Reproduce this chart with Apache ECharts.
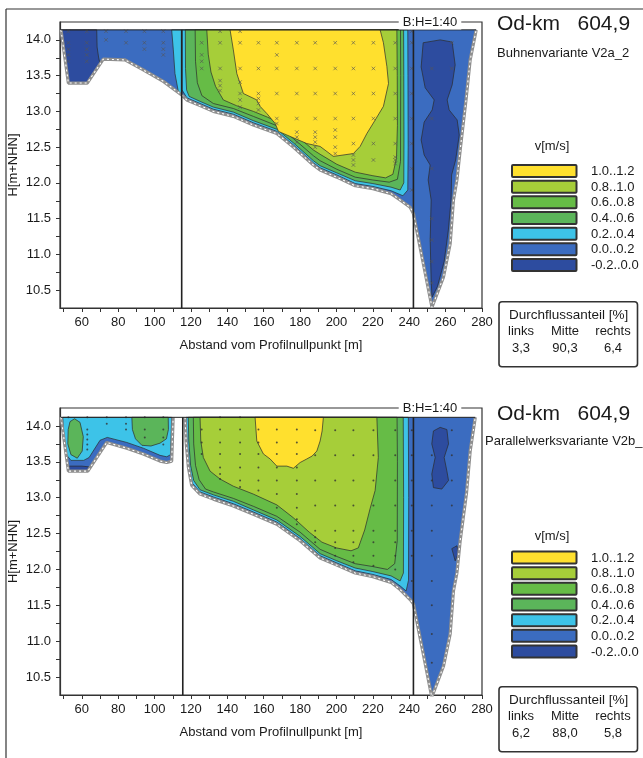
<!DOCTYPE html>
<html><head><meta charset="utf-8">
<script src="https://cdn.jsdelivr.net/npm/echarts@6/dist/echarts.min.js"></script>
<style>html,body{margin:0;padding:0;background:#fff}#c{width:643px;height:758px}</style>
</head><body><div id="c"></div>
<script>
// ---------- legend / classes ----------
const legendLabels = ['1.0..1.2','0.8..1.0','0.6..0.8','0.4..0.6','0.2..0.4','0.0..0.2','-0.2..0.0'];
const levelColors  = ['#FFE02E','#A6CE39','#66BC46','#5BB55A','#3DC3E8','#3B6CC0','#2D4C9F'];

// ---------- axes ----------
const xTickValues  = [50,60,70,80,90,100,110,120,130,140,150,160,170,180,190,200,210,220,230,240,250,260,270,280];
const xLabelValues = [60,80,100,120,140,160,180,200,220,240,260,280];
const yTickValues  = [10.5,10.75,11.0,11.25,11.5,11.75,12.0,12.25,12.5,12.75,13.0,13.25,13.5,13.75,14.0];
const yLabelValues = [10.5,11.0,11.5,12.0,12.5,13.0,13.5,14.0];

// ---------- panel texts ----------
const panelTitles    = ['Od-km   604,9','Od-km   604,9'];
const panelSubtitles = ['Buhnenvariante V2a_2','Parallelwerksvariante V2b_2'];
const flowHeader = ['links','Mitte','rechts'];
const flowTop    = ['3,3','90,3','6,4'];
const flowBottom = ['6,2','88,0','5,8'];

// ---------- TOP panel (Buhnenvariante) ----------
const topSurface = [[48.55,14.14],[276.8,14.14]];
const topDividers = [[[114.9,14.14],[114.9,10.25]],[[242.3,14.14],[242.3,10.25]]];
const topBed = [[48.55,14.14],[52.6,13.396],[63,13.396],[71.8,13.73],[83.75,13.72],[93.8,13.58],[104.8,13.42],[114.9,13.23],
  [117.7,13.16],[125,13.08],[132.3,13.0],[143.3,12.93],[154.3,12.81],[167.2,12.69],[176.3,12.5],[187.3,12.25],[191,12.18],
  [200.2,12.08],[210.3,11.96],[220,11.92],[230,11.85],[235,11.76],[240.5,11.66],[242.3,11.57],[252.5,10.26],[258.8,10.68],
  [262.5,11.15],[264.3,11.76],[266.2,12.04],[268,12.46],[271.2,13.16],[273.5,13.72],[276.8,14.14]];
const topFloodDark = [[48.55,14.14],[68.2,14.14],[68.4,13.9],[69.2,13.76],[70,13.66],[63,13.396],[52.6,13.396]];
const topFloodCyan = [[109.4,14.14],[110.3,13.86],[111.2,13.53],[113.1,13.27],[114.9,13.23],[114.9,14.14]];
const top02 = [[115.1,14.14],[115.1,13.3],[117.7,13.19],[125,13.11],[132.3,13.03],[143.3,12.96],[154.3,12.84],[167.2,12.72],
  [176.3,12.53],[187.3,12.28],[191,12.21],[200.2,12.11],[210.3,11.99],[220,11.95],[230,11.89],[236.5,11.82],[239.2,11.9],
  [239.4,12.5],[239.3,13.5],[239.2,14.14]];
const top04 = [[116.9,14.14],[117,13.6],[117.6,13.3],[119,13.21],[125,13.14],[132.3,13.06],[143.3,12.99],[154.3,12.87],[167.2,12.75],
  [176.3,12.56],[187.3,12.31],[191,12.24],[200.2,12.14],[210.3,12.03],[220,11.99],[230,11.94],[235,11.9],[237,12.0],
  [237.1,12.6],[237,13.5],[236.9,14.14]];
const top06 = [[122.3,14.14],[122.5,13.7],[123.5,13.4],[126,13.22],[132.3,13.11],[143.3,13.04],[154.3,12.93],[167.2,12.8],
  [176.3,12.62],[187.3,12.38],[191,12.31],[200.2,12.19],[210.3,12.08],[220,12.04],[229,12.01],[233.5,12.05],[235.2,12.3],
  [235.3,13.5],[235.2,14.14]];
const top08 = [[128.7,14.14],[129.5,13.8],[131,13.55],[133.5,13.35],[137.8,13.16],[145,13.08],[154.3,13.0],[162,12.92],[167.2,12.86],
  [176.3,12.7],[187.3,12.46],[191,12.4],[200.2,12.26],[210.3,12.15],[220,12.1],[227,12.07],[231,12.12],[233,12.35],
  [233.5,12.8],[233.4,13.5],[233.2,14.14]];
const top10 = [[141.5,14.14],[143.3,13.86],[145.2,13.53],[148.8,13.25],[156.2,13.16],[158,13.07],[161.7,12.97],[166.3,12.83],
  [168.1,12.72],[174.5,12.65],[183.7,12.55],[191,12.51],[198.3,12.37],[209.3,12.41],[213,12.51],[216.7,12.69],[221.3,12.88],
  [225.8,13.07],[228.6,13.39],[227.7,13.63],[225.8,13.96],[224,14.14]];
const topRightDark = [[247.65,13.96],[246.55,13.62],[248.75,13.33],[253.7,13.16],[252.6,13.02],[248.2,12.85],[246.55,12.6],
  [248.2,12.39],[251.5,12.25],[250.4,12.04],[252.05,11.76],[251.5,11.2],[252.05,10.64],[252.5,10.4],[255.5,10.55],[259.2,10.9],
  [261.5,11.34],[263,11.76],[263.3,12.11],[265.5,12.32],[266.3,12.46],[267.5,12.67],[266.35,12.88],[261.95,13.02],[260.85,13.16],
  [263.6,13.37],[265.25,13.65],[263.6,13.97],[257,14.0]];
// measurement verticals (station x) and point heights
const topMarkX = [52.6,62.7,73.3,84.3,94.4,104.8,125.9,136,147,157.1,167.2,178.2,188.3,199.3,209.3,220.3,232.3,241.4,252.4,263.4];
const topMarkY = [
  [14.12,13.96,13.87,13.79,13.70],[14.12,13.96,13.87,13.79,13.70],[14.12,14.0],[14.12,13.96],[14.12,13.96,13.87],
  [14.12,13.96,13.87,13.79],[13.96,13.79,13.70,13.6],[14.12,13.96,13.6,13.43,13.36,13.29],
  [14.12,13.96,13.6,13.41,13.25,13.16,13.06],[13.96,13.6,13.25,13.18,13.11,13.02],[13.96,13.79,13.6,13.25,12.9,12.83],
  [13.96,13.6,13.25,12.9,12.71,12.64,12.57],[13.96,13.6,13.25,12.9,12.71,12.64,12.57,12.5],
  [13.96,13.6,13.25,12.9,12.74,12.64,12.5,12.41],[13.96,13.6,13.25,12.9,12.55,12.39,12.32,12.25],
  [13.96,13.6,13.25,12.9,12.55,12.32],[13.96,13.6,13.25,12.9,12.55,12.36,12.32,12.27],
  [14.12,13.96,13.6,13.25,12.9,12.55,12.2,11.9],[13.6,12.9,12.2,11.5,11.2,10.9,10.6],[13.96,13.6]];

// ---------- BOTTOM panel (Parallelwerksvariante) ----------
const botSurface = [[48.55,14.12],[276.3,14.12]];
const botDividers = [[[115.5,14.12],[115.5,10.25]],[[242.3,14.12],[242.3,10.25]]];
const botFloodBed = [[48.55,14.12],[52.6,13.37],[63.3,13.37],[73.7,13.77],[84.7,13.69],[93.8,13.61],[103,13.51],[106.7,13.49],
  [109.4,13.51],[110.2,14.12]];
const botMainBed = [[116.75,14.12],[117.3,13.79],[118.6,13.42],[120.4,13.17],[125,13.05],[132.3,12.98],[143.3,12.885],[154.3,12.77],
  [167.2,12.63],[180,12.4],[191,12.16],[200.2,12.06],[210.3,11.95],[220,11.9],[230,11.82],[235,11.72],[240.5,11.58],[242.3,11.52],
  [252.4,10.22],[258.8,10.65],[262.5,11.1],[264.3,11.7],[266.2,11.95],[268,12.4],[271.5,13.07],[273.5,13.65],[276.3,14.12]];
const botFloodCyan = [[49.5,14.12],[50,13.9],[51.5,13.6],[54,13.52],[61,13.52],[64,13.56],[70,13.8],[74,13.84],[84.7,13.77],
  [93.8,13.69],[103,13.59],[106.7,13.57],[108.8,13.6],[109.4,14.12]];
const botFloodDark = [[52.6,13.37],[63.3,13.37],[63.8,13.43],[60,13.44],[53,13.44]];
const botFloodGreenA = [[52.5,13.95],[53.5,14.06],[56,14.1],[59,14.05],[60.8,13.85],[60.2,13.65],[57.5,13.55],[54,13.6],[52.3,13.75]];
const botFloodGreenB = [[87.5,14.12],[87.8,13.95],[89.5,13.82],[93,13.73],[98,13.72],[103,13.76],[106.5,13.82],[107.6,13.95],[107.5,14.12]];
const bot02 = [[117.3,14.12],[117.8,13.79],[119.1,13.42],[120.8,13.2],[125,13.08],[132.3,13.01],[143.3,12.915],[154.3,12.8],
  [167.2,12.66],[180,12.43],[191,12.19],[200.2,12.09],[210.3,11.98],[220,11.93],[230,11.86],[235,11.77],[238.3,11.7],
  [239.6,11.85],[239.7,13],[239.5,14.12]];
const bot04 = [[118.5,14.12],[118.8,13.79],[119.8,13.45],[121.5,13.24],[125,13.11],[132.3,13.04],[143.3,12.95],[154.3,12.83],
  [167.2,12.69],[180,12.46],[191,12.22],[200.2,12.12],[210.3,12.02],[220,11.97],[230,11.91],[235,11.84],[236.8,11.95],
  [236.9,13],[236.7,14.12]];
const bot06 = [[121.3,14.12],[121.5,13.75],[122.5,13.45],[124.5,13.25],[128,13.12],[132.3,13.08],[143.3,12.99],[154.3,12.88],
  [167.2,12.74],[180,12.52],[191,12.28],[200.2,12.18],[210.3,12.08],[220,12.04],[228,12.0],[232,12.08],[233.4,12.4],
  [233.5,13.5],[233.3,14.12]];
const bot08 = [[125,14.12],[125.4,13.79],[126.8,13.56],[130.5,13.37],[136,13.26],[143.3,13.16],[154.3,13.05],[167.2,12.9],
  [176.3,12.72],[185,12.52],[192,12.38],[200,12.3],[208,12.26],[212,12.3],[215.5,12.55],[218.5,12.85],[221.25,13.1],
  [223,13.56],[222.2,14.12]];
const bot10 = [[155.25,14.12],[156.2,13.79],[159.8,13.61],[163.5,13.54],[167.2,13.44],[172.7,13.44],[176.3,13.41],[180,13.49],
  [183.7,13.54],[186.6,13.58],[189.2,13.65],[191,13.79],[192.1,13.93],[192.8,14.12]];
const botRightDark = [[253.3,13.93],[257,13.98],[260.7,13.95],[261.6,13.75],[259.2,13.56],[260.7,13.37],[261.6,13.24],[257.9,13.12],
  [253.3,13.14],[252.4,13.33],[254.25,13.56],[252.4,13.75]];
const botRightDark2 = [[263.4,12.29],[266.2,12.33],[267.1,12.22],[265.25,12.12]];
const botMarkX = [52.6,63,73.7,84.3,94.6,104.8,125.9,136,147,157.1,167.2,178.2,188.3,199.3,209.3,220.3,232.3,241.4,252.4,263.4];
const botMarkY = [
  [14.12],[14.12,13.95,13.88,13.81,13.74,13.67],[14.12,14.03],[14.12,14.03,13.95],[14.12,13.95,13.84],[14.12,13.95,13.84,13.74],
  [13.95,13.77,13.61],[14.12,13.95,13.77,13.61,13.42,13.33,13.26],[14.12,13.95,13.77,13.61,13.42,13.24,13.15],
  [13.95,13.77,13.61,13.42,13.24,13.1],[13.95,13.77,13.61,13.42,13.24,13.05,12.86],
  [13.95,13.77,13.61,13.42,13.24,13.05,12.86,12.7,12.63],[13.94,13.59,13.24,12.89,12.54,12.45,12.38],
  [13.94,13.59,13.24,12.89,12.54,12.38,12.3,12.19],[13.94,13.59,13.24,12.89,12.54,12.38,12.19,12.1],
  [13.94,13.59,13.24,12.89,12.54,12.38,12.19,12.05],[13.94,13.59,13.24,12.89,12.54,12.38,12.19,12.0],
  [13.94,13.59,13.24,12.89,12.54,12.19,11.84],[13.59,13.24,12.89,12.54,12.19,11.84,11.5,11.1,10.7],[13.94,13.59,13.24,12.89]];

// ---------- build ----------
const topRegions = [
  {poly: topBed, level: 5, base: true}, {poly: topFloodDark, level: 6}, {poly: topFloodCyan, level: 4},
  {poly: top02, level: 4}, {poly: top04, level: 3}, {poly: top06, level: 2}, {poly: top08, level: 1}, {poly: top10, level: 0},
  {poly: topRightDark, level: 6}
];
const botRegions = [
  {poly: botFloodBed, level: 5, base: true}, {poly: botFloodCyan, level: 4}, {poly: botFloodDark, level: 6},
  {poly: botFloodGreenA, level: 3}, {poly: botFloodGreenB, level: 3},
  {poly: botMainBed, level: 5, base: true}, {poly: bot02, level: 4}, {poly: bot04, level: 3}, {poly: bot06, level: 2},
  {poly: bot08, level: 1}, {poly: bot10, level: 0}, {poly: botRightDark, level: 6}, {poly: botRightDark2, level: 6}
];
function markPoints(xs, ys) {
  const out = [];
  xs.forEach((x, i) => ys[i].forEach(y => out.push([x, y])));
  return out;
}

const FONT = '"Liberation Sans", Arial, sans-serif';
const TXT = '#1a1a1a';

function regionSeries(g, regions) {
  return {
    type: 'custom', xAxisIndex: g, yAxisIndex: g, clip: true, silent: true, z: 2, animation: false,
    data: regions.map((r, i) => [r.poly[0][0], r.poly[0][1], i]),
    renderItem: (params, api) => {
      const r = regions[params.dataIndex];
      return { type: 'polygon', shape: { points: r.poly.map(p => api.coord(p)) },
        style: { fill: levelColors[r.level], stroke: '#2b2b2b', lineWidth: r.base ? 0 : 0.7 } };
    }
  };
}
function lineSeries(g, data, color, width, type, z) {
  return { type: 'line', xAxisIndex: g, yAxisIndex: g, data: data, symbol: 'none', silent: true, z: z, animation: false,
    lineStyle: { color: color, width: width, type: type || 'solid' } };
}
function bedSeries(g, data) {
  return [lineSeries(g, data, '#8f8f8f', 3.2, 'solid', 4), lineSeries(g, data, '#ffffff', 1.1, [2, 3], 5)];
}
function markSeries(g, data, cross) {
  return { type: 'scatter', xAxisIndex: g, yAxisIndex: g, data: data, silent: true, z: 3, animation: false,
    symbol: cross ? 'path://M0,0L10,10M10,0L0,10' : 'circle', symbolSize: cross ? 3.5 : 2,
    itemStyle: cross ? { color: 'none', borderColor: '#555', borderWidth: 0.8 } : { color: '#333' } };
}
function xAxisCfg(g) {
  return { type: 'value', gridIndex: g, min: 48, max: 280,
    name: 'Abstand vom Profilnullpunkt [m]', nameLocation: 'middle', nameGap: 31, nameMoveOverlap: false,
    nameTextStyle: { fontFamily: FONT, fontSize: 13, color: TXT },
    axisLine: { show: true, onZero: false, lineStyle: { color: '#333', width: 1.2 } },
    axisTick: { show: true, length: 4, lineStyle: { color: '#333' }, customValues: xTickValues },
    axisLabel: { fontFamily: FONT, fontSize: 13, color: TXT, margin: 8, customValues: xLabelValues },
    splitLine: { show: false } };
}
function yAxisCfg(g) {
  return { type: 'value', gridIndex: g, min: 10.25, max: 14.25,
    name: 'H[m+NHN]', nameLocation: 'middle', nameGap: 40, nameRotate: 90, nameMoveOverlap: false,
    nameTextStyle: { fontFamily: FONT, fontSize: 13, color: TXT },
    axisLine: { show: true, onZero: false, lineStyle: { color: '#333', width: 1.2 } },
    axisTick: { show: true, length: 4, lineStyle: { color: '#333' }, customValues: yTickValues },
    axisLabel: { fontFamily: FONT, fontSize: 13, color: TXT, margin: 9, customValues: yLabelValues,
      formatter: v => Number(v).toFixed(1) },
    splitLine: { show: false } };
}

const series = [];
series.push(regionSeries(0, topRegions));
series.push(markSeries(0, markPoints(topMarkX, topMarkY), true));
series.push(...bedSeries(0, topBed));
series.push(lineSeries(0, topSurface, '#222', 1, 'solid', 6));
topDividers.forEach(d => series.push(lineSeries(0, d, '#222', 1.6, 'solid', 6)));
series.push(regionSeries(1, botRegions));
series.push(markSeries(1, markPoints(botMarkX, botMarkY), false));
series.push(...bedSeries(1, botFloodBed));
series.push(...bedSeries(1, botMainBed));
series.push(lineSeries(1, botSurface, '#222', 1, 'solid', 6));
botDividers.forEach(d => series.push(lineSeries(1, d, '#222', 1.6, 'solid', 6)));

// ---------- graphics: panel frame, titles, legends, flow boxes ----------
const graphic = [];
graphic.push({ type: 'line', shape: { x1: 6, y1: 9, x2: 643, y2: 9 }, style: { stroke: '#333', lineWidth: 1.2 }, silent: true });
graphic.push({ type: 'line', shape: { x1: 6, y1: 9, x2: 6, y2: 758 }, style: { stroke: '#333', lineWidth: 1.2 }, silent: true });
const panelOffsets = [0, 386.5];
panelOffsets.forEach((dy, p) => {
  graphic.push({ type: 'text', x: 430, y: (p ? 408 : 22), silent: true, z: 100,
    style: { text: 'B:H=1:40', font: '13px ' + FONT, fill: TXT, align: 'center', verticalAlign: 'middle',
      backgroundColor: '#fff', padding: [1, 4] } });
  graphic.push({ type: 'text', x: 497, y: 24 + (p ? 390 : 0), silent: true,
    style: { text: panelTitles[p], font: '21px ' + FONT, fill: TXT, verticalAlign: 'middle' } });
  graphic.push({ type: 'text', x: p ? 485 : 497, y: 53 + (p ? 388.7 : 0), silent: true,
    style: { text: panelSubtitles[p], font: '13px ' + FONT, fill: TXT, verticalAlign: 'middle' } });
  graphic.push({ type: 'text', x: 552, y: 146 + (p ? 390 : 0), silent: true,
    style: { text: 'v[m/s]', font: '13px ' + FONT, fill: TXT, align: 'center', verticalAlign: 'middle' } });
  legendLabels.forEach((lab, i) => {
    const top = 165 + dy + i * 15.67;
    graphic.push({ type: 'rect', shape: { x: 512, y: top, width: 64.5, height: 12, r: 1 }, silent: true,
      style: { fill: levelColors[i], stroke: '#333', lineWidth: 2 } });
    graphic.push({ type: 'text', x: 591, y: top + 6.5, silent: true,
      style: { text: lab, font: '13px ' + FONT, fill: TXT, verticalAlign: 'middle' } });
  });
  const by = 301.7 + (p ? 385 : 0);
  graphic.push({ type: 'rect', shape: { x: 499, y: by, width: 138.5, height: 65, r: 3 }, silent: true,
    style: { fill: '#fff', stroke: '#333', lineWidth: 1.6 } });
  graphic.push({ type: 'text', x: 509, y: by + 13.5, silent: true,
    style: { text: 'Durchflussanteil [%]', font: '13.5px ' + FONT, fill: TXT, verticalAlign: 'middle' } });
  const vals = p ? flowBottom : flowTop;
  const colCenter = [521, 565, 613];
  flowHeader.forEach((h, i) => {
    graphic.push({ type: 'text', x: colCenter[i], y: by + 30, silent: true,
      style: { text: h, font: '13px ' + FONT, fill: TXT, align: 'center', verticalAlign: 'middle' } });
    graphic.push({ type: 'text', x: colCenter[i], y: by + 47, silent: true,
      style: { text: vals[i], font: '13px ' + FONT, fill: TXT, align: 'center', verticalAlign: 'middle' } });
  });
});

const option = {
  animation: false,
  backgroundColor: '#fff',
  grid: [
    { left: 60, top: 22, width: 422, height: 286, show: true, borderColor: '#333', borderWidth: 1.2,
      backgroundColor: 'transparent', outerBoundsMode: 'none', containLabel: false },
    { left: 60, top: 408, width: 422, height: 287, show: true, borderColor: '#333', borderWidth: 1.2,
      backgroundColor: 'transparent', outerBoundsMode: 'none', containLabel: false }
  ],
  xAxis: [xAxisCfg(0), xAxisCfg(1)],
  yAxis: [yAxisCfg(0), yAxisCfg(1)],
  series: series,
  graphic: graphic
};
const chart = echarts.init(document.getElementById('c'), null, { renderer: 'canvas' });
chart.setOption(option);
</script></body></html>
